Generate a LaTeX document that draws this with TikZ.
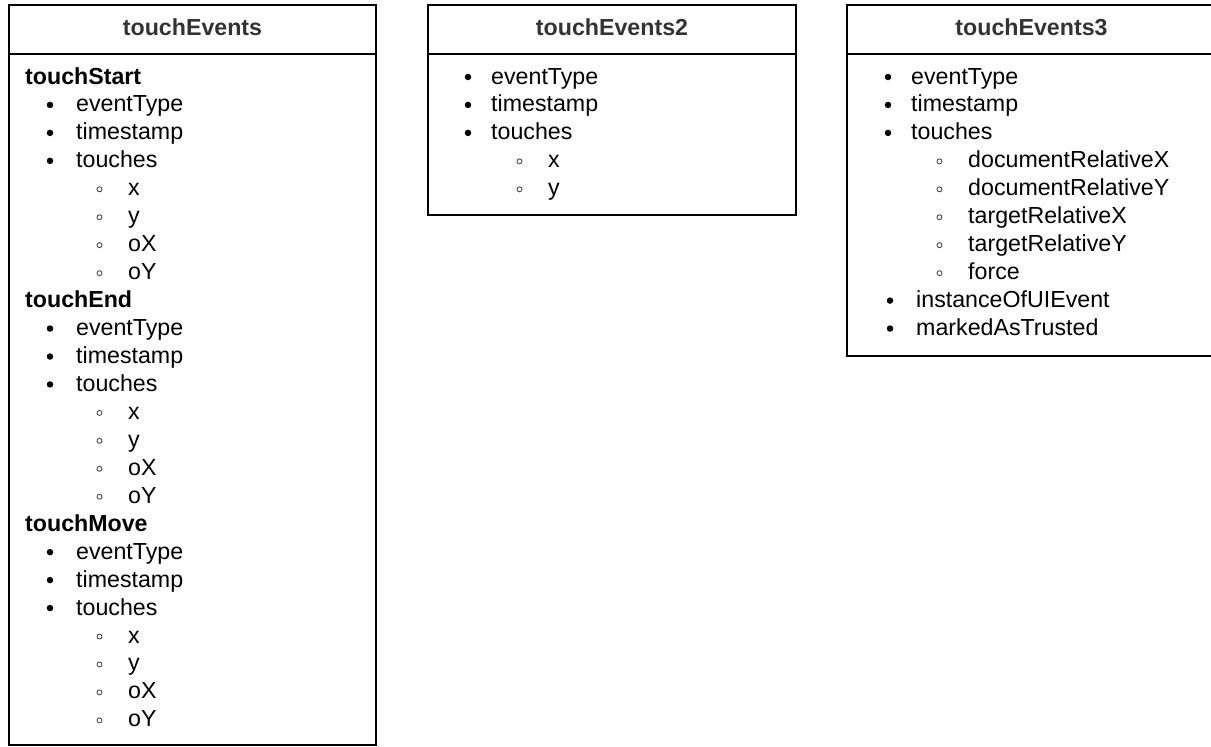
\documentclass[tikz,border=0pt]{standalone}
\usepackage{fontspec}
\setmainfont{Liberation Sans}
\begin{document}
\begin{tikzpicture}[x=1pt,y=-1pt,
  box/.style={draw=black, line width=2.5pt},
  rule/.style={draw=black, line width=2pt},
  hdr/.style={font=\bfseries\fontsize{23.2}{28}\selectfont, text=black!80, inner sep=0pt, anchor=base},
  head/.style={font=\bfseries\fontsize{23.2}{28}\selectfont, inner sep=0pt, anchor=base west},
  item/.style={font=\fontsize{23.2}{28}\selectfont, inner sep=0pt, anchor=base west},
  dot/.style={fill=black, circle, inner sep=0pt, minimum size=6.5pt},
  ring/.style={draw=black!70, line width=0.9pt, circle, inner sep=0pt, minimum size=5pt}]
\useasboundingbox (0,0) rectangle (1211,747);
\clip (0,0) rectangle (1211,747);
% line #4 of a box: baseline at 84 + 27.95*#4
\newcommand\itm[5]{\node[dot] (#1m) at (#2,77+27.95*#4) {}; \node[item] (#1) at (#3,84+27.95*#4) {#5};}
\newcommand\subitm[5]{\node[ring] (#1m) at (#2,77.5+27.95*#4) {}; \node[item] (#1) at (#3,84+27.95*#4) {#5};}

% ---- touchEvents ----
\draw[box] (9,5) rectangle (376,745);
\draw[rule] (9,54) -- (376,54);
\node[hdr] (h1) at (192.5,35) {touchEvents};
\node[head] (a0) at (25,84) {touchStart};
\itm{a1}{50}{76}{1}{eventType}
\itm{a2}{50}{76}{2}{timestamp}
\itm{a3}{50}{76}{3}{touches}
\subitm{a4}{99.5}{128}{4}{x}
\subitm{a5}{99.5}{128}{5}{y}
\subitm{a6}{99.5}{128}{6}{oX}
\subitm{a7}{99.5}{128}{7}{oY}
\node[head] (b0) at (25,84+27.95*8) {touchEnd};
\itm{b1}{50}{76}{9}{eventType}
\itm{b2}{50}{76}{10}{timestamp}
\itm{b3}{50}{76}{11}{touches}
\subitm{b4}{99.5}{128}{12}{x}
\subitm{b5}{99.5}{128}{13}{y}
\subitm{b6}{99.5}{128}{14}{oX}
\subitm{b7}{99.5}{128}{15}{oY}
\node[head] (c0) at (25,84+27.95*16) {touchMove};
\itm{c1}{50}{76}{17}{eventType}
\itm{c2}{50}{76}{18}{timestamp}
\itm{c3}{50}{76}{19}{touches}
\subitm{c4}{99.5}{128}{20}{x}
\subitm{c5}{99.5}{128}{21}{y}
\subitm{c6}{99.5}{128}{22}{oX}
\subitm{c7}{99.5}{128}{23}{oY}

% ---- touchEvents2 ----
\draw[box] (428,5) rectangle (796,215);
\draw[rule] (428,54) -- (796,54);
\node[hdr] (h2) at (612,35) {touchEvents2};
\itm{d1}{468}{491}{0}{eventType}
\itm{d2}{468}{491}{1}{timestamp}
\itm{d3}{468}{491}{2}{touches}
\subitm{d4}{519.5}{548}{3}{x}
\subitm{d5}{519.5}{548}{4}{y}

% ---- touchEvents3 ----
\draw[box] (847,5) rectangle (1216,356);
\draw[rule] (847,54) -- (1216,54);
\node[hdr] (h3) at (1031.5,35) {touchEvents3};
\itm{e1}{888}{911}{0}{eventType}
\itm{e2}{888}{911}{1}{timestamp}
\itm{e3}{888}{911}{2}{touches}
\subitm{e4}{939.5}{968}{3}{documentRelativeX}
\subitm{e5}{939.5}{968}{4}{documentRelativeY}
\subitm{e6}{939.5}{968}{5}{targetRelativeX}
\subitm{e7}{939.5}{968}{6}{targetRelativeY}
\subitm{e8}{939.5}{968}{7}{force}
\itm{e9}{890}{916}{8}{instanceOfUIEvent}
\itm{e10}{890}{916}{9}{markedAsTrusted}
\end{tikzpicture}
\end{document}
